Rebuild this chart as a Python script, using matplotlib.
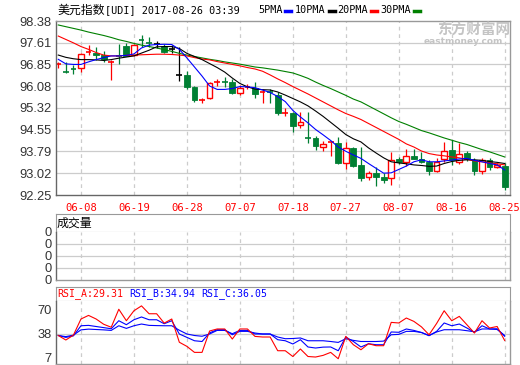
import matplotlib
matplotlib.use('Agg')
import matplotlib.pyplot as plt
from matplotlib.patches import Rectangle
from matplotlib.lines import Line2D
import numpy as np

W, H = 520, 365

# 交易日标签（每7个交易日一个）
date_labels = ['06-08', '06-19', '06-28', '07-07', '07-18', '07-27', '08-07', '08-16', '08-25']
date_idx = [3, 10, 17, 24, 31, 38, 45, 52, 59]

price_ticks = ['92.25', '93.02', '93.79', '94.55', '95.32', '96.08', '96.85', '97.61', '98.38']

opens = [96.85, 96.58, 96.70, 96.71, 97.26, 97.27, 97.18, 96.93, 97.18, 97.50,
         97.18, 97.73, 97.62, 97.58, 97.51, 97.40, 96.48, 96.48, 96.06, 95.57,
         95.66, 96.21, 96.26, 96.22, 95.83, 96.05, 96.03, 95.85, 95.89, 95.77,
         95.13, 95.15, 94.72, 94.27, 94.25, 93.95, 94.08, 94.07, 93.39, 93.92,
         93.30, 92.88, 93.02, 92.90, 92.84, 93.51, 93.43, 93.64, 93.51, 93.41,
         93.08, 93.52, 93.84, 93.43, 93.72, 93.49, 93.10, 93.49, 93.23, 93.27]
closes = [96.87, 96.56, 96.66, 97.21, 97.29, 97.19, 97.05, 96.96, 97.14, 97.16,
          97.55, 97.70, 97.58, 97.58, 97.30, 97.40, 96.48, 96.06, 95.58, 95.61,
          96.18, 96.24, 96.22, 95.83, 96.03, 96.09, 95.80, 95.89, 95.86, 95.15,
          95.17, 94.68, 94.82, 94.24, 93.99, 94.05, 94.12, 93.37, 93.92, 93.27,
          92.84, 93.02, 92.90, 92.78, 93.49, 93.43, 93.63, 93.53, 93.40, 93.08,
          93.43, 93.81, 93.49, 93.69, 93.51, 93.10, 93.49, 93.23, 93.31, 92.52]
highs = [96.95, 96.92, 96.83, 97.24, 97.53, 97.48, 97.32, 97.01, 97.56, 97.60,
         97.58, 97.89, 97.82, 97.68, 97.56, 97.52, 97.45, 96.62, 96.10, 95.68,
         96.24, 96.34, 96.42, 96.33, 96.13, 96.17, 96.22, 95.97, 96.00, 95.87,
         95.31, 95.19, 95.17, 95.19, 94.33, 94.15, 94.13, 94.30, 94.13, 93.95,
         93.93, 93.09, 93.23, 93.04, 93.78, 93.58, 93.86, 93.86, 93.78, 93.49,
         93.55, 94.13, 94.19, 94.07, 93.79, 93.55, 93.55, 93.55, 93.38, 93.37]
lows = [96.71, 96.55, 96.50, 96.59, 97.18, 97.01, 96.95, 96.30, 96.86, 97.15,
        97.15, 97.48, 97.48, 97.44, 97.26, 97.24, 96.25, 95.98, 95.52, 95.48,
        95.64, 96.10, 96.07, 95.80, 95.78, 95.99, 95.66, 95.50, 95.48, 95.07,
        95.04, 94.48, 94.62, 94.07, 93.84, 93.80, 93.63, 93.35, 93.16, 93.22,
        92.75, 92.78, 92.55, 92.69, 92.60, 93.35, 93.27, 93.51, 93.38, 92.96,
        93.06, 93.43, 93.31, 93.35, 93.45, 92.96, 93.00, 93.13, 93.20, 92.43]

ma5 = [97.03, 96.87, 96.85, 96.85, 96.94, 97.02, 97.09, 97.15, 97.15, 97.17,
       97.22, 97.43, 97.53, 97.55, 97.56, 97.55, 97.38, 97.08, 96.76, 96.44,
       96.09, 95.97, 95.97, 96.00, 96.07, 96.06, 96.03, 95.95, 95.86, 95.72,
       95.54, 95.23, 95.00, 94.79, 94.56, 94.37, 94.17, 93.94, 93.79, 93.66,
       93.54, 93.36, 93.19, 93.02, 93.03, 93.15, 93.27, 93.42, 93.49, 93.42,
       93.42, 93.45, 93.48, 93.52, 93.54, 93.47, 93.42, 93.36, 93.31, 93.13]
ma10 = [97.18, 97.10, 97.05, 97.02, 97.02, 97.01, 96.99, 97.02, 97.07, 97.11,
        97.15, 97.25, 97.35, 97.47, 97.48, 97.48, 97.41, 97.24, 97.13, 97.02,
        96.88, 96.74, 96.58, 96.37, 96.18, 96.06, 95.98, 95.96, 95.95, 95.88,
        95.77, 95.65, 95.53, 95.39, 95.21, 95.02, 94.81, 94.60, 94.38, 94.23,
        94.12, 93.91, 93.73, 93.56, 93.42, 93.38, 93.35, 93.31, 93.29, 93.26,
        93.27, 93.36, 93.43, 93.47, 93.49, 93.49, 93.47, 93.43, 93.40, 93.36]
ma20 = [97.85, 97.73, 97.61, 97.48, 97.38, 97.27, 97.18, 97.15, 97.15, 97.17,
        97.18, 97.19, 97.20, 97.21, 97.21, 97.20, 97.18, 97.15, 97.09, 97.04,
        97.01, 96.95, 96.90, 96.85, 96.80, 96.74, 96.69, 96.61, 96.48, 96.34,
        96.21, 96.07, 95.94, 95.81, 95.67, 95.53, 95.39, 95.25, 95.12, 95.02,
        94.91, 94.77, 94.63, 94.49, 94.35, 94.21, 94.05, 93.94, 93.80, 93.71,
        93.66, 93.63, 93.59, 93.56, 93.50, 93.45, 93.42, 93.38, 93.35, 93.31]
ma30 = [98.24, 98.18, 98.12, 98.06, 97.99, 97.93, 97.87, 97.80, 97.72, 97.66,
        97.59, 97.53, 97.48, 97.43, 97.37, 97.31, 97.24, 97.18, 97.13, 97.08,
        97.03, 96.99, 96.94, 96.90, 96.86, 96.81, 96.76, 96.73, 96.69, 96.65,
        96.60, 96.55, 96.46, 96.36, 96.23, 96.11, 96.00, 95.88, 95.76, 95.63,
        95.53, 95.39, 95.25, 95.11, 94.97, 94.84, 94.74, 94.63, 94.52, 94.44,
        94.35, 94.26, 94.18, 94.10, 94.03, 93.94, 93.85, 93.77, 93.68, 93.59]

rsi_a = [36, 30, 36.5, 58, 62.8, 58, 51, 47, 71, 55.7,
         69, 75.5, 65, 65, 52.5, 58, 27, 21.5, 13.5, 13.5,
         42, 44.7, 44.7, 31.3, 44.7, 44.7, 34.8, 34, 34, 15.7,
         15.7, 8, 18, 8, 7.3, 9.5, 13.5, 5, 34.8, 23.7,
         17, 25, 22.4, 22.4, 53.5, 52.7, 59.3, 54.8, 47.5, 37,
         52, 69, 55.7, 61.5, 50.4, 39.3, 55.7, 46, 48, 29.31]
rsi_b = [36, 33.5, 35.5, 49, 49.5, 48, 46.5, 45, 55.7, 50.4,
         57, 60.7, 57, 57, 51.7, 55.7, 38, 33.5, 29, 28,
         39.5, 43.7, 43.7, 37, 41.5, 41.5, 39.3, 38, 38, 30.4,
         29, 24.7, 30.4, 20.7, 19.3, 20.5, 20.7, 15.7, 34, 28,
         20.7, 25, 23.7, 23.7, 40.7, 40.3, 44.7, 42.8, 40, 35.7,
         41.5, 52.7, 49, 51.3, 46, 40.2, 49, 44.7, 45, 34.94]
rsi_c = [36, 34.5, 36.5, 43.5, 44.5, 44, 43.5, 42.8, 49, 45.5,
         49, 51.3, 49.5, 49.2, 49, 49, 43, 38, 36, 35,
         38, 42.8, 42.8, 38.4, 42.8, 42.8, 38, 38, 38, 34,
         31.7, 32, 32.7, 29, 29, 29, 28, 26.8, 31.7, 29.5,
         28, 28, 28, 28.5, 37, 37.5, 41.5, 41.5, 40, 36.1,
         40.7, 43.7, 43.7, 43.7, 42.4, 41, 44.7, 44.7, 44, 36.05]

RED = '#ff0000'
GREEN = '#007f33'
BLUE = '#0000ff'
GRID = '#cccccc'
FRAME = '#999999'
TICKFONT = dict(family='Liberation Sans', size=9.3, color='#333333')

fig = plt.figure(figsize=(W / 100, H / 100), dpi=100)
fig.patch.set_facecolor('white')


def box(x0, y0, x1, y1):
    # 像素坐标 -> figure坐标
    return fig.add_axes([x0 / W, 1 - y1 / H, (x1 - x0) / W, (y1 - y0) / H])


def style(ax):
    for s in ax.spines.values():
        s.set_color(FRAME)
        s.set_linewidth(1)
    ax.spines['left'].set_color('#666666')
    ax.tick_params(length=0, pad=3)
    ax.set_xlim(-0.3, 59.7)
    for i in date_idx:
        ax.axvline(i, color=GRID, lw=0.9, ls=(0, (3, 3)), zorder=0)


x = np.arange(len(opens))

# ---- 主图 K线 ----
ax = box(56, 21, 510, 195)
style(ax)
ax.spines['bottom'].set_color('#666666')
tick_vals = [float(t) for t in price_ticks]
ax.set_ylim(tick_vals[0], tick_vals[-1])
ax.set_yticks(tick_vals)
ax.set_yticklabels(price_ticks, **TICKFONT)
for v in tick_vals[1:-1]:
    ax.axhline(v, color=GRID, lw=0.9, zorder=0)
ax.set_xticks(date_idx)
ax.set_xticklabels(date_labels, family='DejaVu Sans Mono', size=7.6, color=RED)
ax.tick_params(axis='x', pad=6)

bw = 0.76
for i in range(len(opens)):
    o, h, l, c = opens[i], highs[i], lows[i], closes[i]
    if abs(c - o) < 0.045:
        col = 'black' if c == o else (RED if c > o else GREEN)
        ax.vlines(i, l, h, color=col, lw=0.9, zorder=2)
        ax.hlines((o + c) / 2, i - bw / 2, i + bw / 2, color=col, lw=1.2, zorder=2)
    elif c > o:
        ax.vlines(i, l, o, color=RED, lw=0.9, zorder=2)
        ax.vlines(i, c, h, color=RED, lw=0.9, zorder=2)
        ax.add_patch(Rectangle((i - bw / 2, o), bw, c - o, facecolor='white',
                               edgecolor=RED, lw=1.0, zorder=2))
    else:
        ax.vlines(i, l, h, color=GREEN, lw=0.9, zorder=2)
        ax.add_patch(Rectangle((i - bw / 2, c), bw, o - c, facecolor=GREEN,
                               edgecolor=GREEN, lw=0.6, zorder=2))

ax.plot(x, ma30, color='#008000', lw=0.8, zorder=3)
ax.plot(x, ma20, color=RED, lw=0.8, zorder=3)
ax.plot(x, ma10, color='black', lw=0.8, zorder=3)
ax.plot(x, ma5, color=BLUE, lw=0.8, zorder=3)

# ---- 成交量 ----
axh = box(56, 214, 510, 232)
for s in axh.spines.values():
    s.set_color(FRAME)
axh.set_xticks([])
axh.set_yticks([])
axv = box(56, 232, 510, 280)
style(axv)
axv.spines['top'].set_visible(False)
axv.set_ylim(0, 4)
axv.set_yticks([0, 1, 2, 3, 4])
axv.set_yticklabels(['0'] * 5, **TICKFONT)
axv.set_xticks([])
for v in [1, 2, 3]:
    axv.axhline(v, color=GRID, lw=0.9, zorder=0)

# ---- RSI ----
axr_h = box(56, 287, 510, 301)
for s in axr_h.spines.values():
    s.set_color(FRAME)
axr_h.set_xticks([])
axr_h.set_yticks([])
axr = box(56, 301, 510, 364)
style(axr)
axr.spines['top'].set_visible(False)
axr.set_ylim(-2, 82)
axr.set_yticks([7, 38, 70])
axr.set_yticklabels(['7', '38', '70'], **TICKFONT)
axr.set_xticks([])
axr.axhline(38, color=GRID, lw=0.9, zorder=0)
axr.plot(x, rsi_c, color=BLUE, lw=0.8)
axr.plot(x, rsi_b, color=BLUE, lw=0.8)
axr.plot(x, rsi_a, color=RED, lw=0.8)


# ---- 文字 ----
def ftext(px, py, s, **kw):
    fig.text(px / W, 1 - py / H, s, va='center', ha='left', **kw)


ftext(57, 10, '美元指数', family=['Noto Sans CJK SC', 'DejaVu Sans'], size=8.6)
ftext(105, 10, '[UDI] 2017-08-26 03:39', family='DejaVu Sans Mono', size=7.3)
legend = [('5PMA', 258, BLUE), ('10PMA', 295, 'black'), ('20PMA', 337, RED), ('30PMA', 380, '#008000')]
for name, px, col in legend:
    ftext(px, 10, name, family='DejaVu Sans Mono', size=7.3)
    dx = px + len(name) * 6.1 + 3
    fig.add_artist(Line2D([dx / W, (dx + 6) / W], [1 - 11 / H, 1 - 11 / H], color=col, lw=2.5))

ftext(57, 223, '成交量', family=['Noto Sans CJK SC', 'DejaVu Sans'], size=8.6)
ftext(57, 294, 'RSI_A:29.31', family='DejaVu Sans Mono', size=7.1, color=RED)
ftext(129, 294, 'RSI_B:34.94', family='DejaVu Sans Mono', size=7.1, color=BLUE)
ftext(201, 294, 'RSI_C:36.05', family='DejaVu Sans Mono', size=7.1, color=BLUE)

# 水印
fig.text(474 / W, 1 - 30 / H, '东方财富网', ha='center', va='center', color='#c4c4c4',
         family=['Noto Sans CJK SC', 'DejaVu Sans'], size=10.5, weight='bold')
fig.text(463 / W, 1 - 41.5 / H, 'eastmoney.com', ha='center', va='center', color='#c4c4c4',
         family='DejaVu Sans', size=6.5, weight='bold')

fig.savefig('out.png', dpi=100)
